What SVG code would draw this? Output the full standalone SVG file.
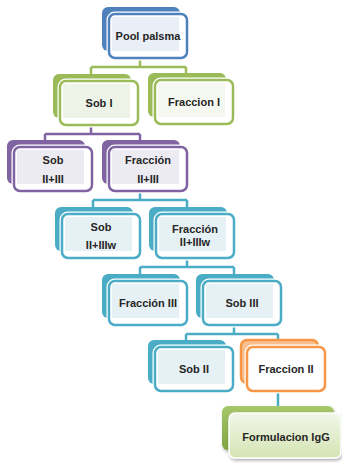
<svg xmlns="http://www.w3.org/2000/svg" width="342" height="463" viewBox="0 0 342 463">
<style>
.t{font-family:"Liberation Sans",Arial,sans-serif;font-weight:bold;font-size:11px;fill:#262626;text-anchor:middle}
.c{fill:none;stroke-width:2.5}
.fw{fill:none;stroke:#ffffff;stroke-width:5}
</style>
<defs>
<linearGradient id="gg" x1="0" y1="0" x2="0" y2="1">
<stop offset="0" stop-color="#f2f7e8"/><stop offset="1" stop-color="#d3e4b3"/>
</linearGradient>
<linearGradient id="gb" x1="0" y1="0" x2="0" y2="1">
<stop offset="0" stop-color="#a6c86a"/><stop offset="1" stop-color="#7fa543"/>
</linearGradient>
<filter id="sh" x="-10%" y="-10%" width="130%" height="140%">
<feDropShadow dx="1" dy="2" stdDeviation="1.5" flood-color="#000" flood-opacity="0.3"/>
</filter>
</defs>
<rect width="342" height="463" fill="#ffffff"/>
<g id="connectors">
<path class="c" stroke="#9bbb59" d="M140 57V67M91 67H186M91 67V76M186 67V75"/>
<path class="c" stroke="#8064a2" d="M91 127V134M45 134H140M45 134V141M140 134V141"/>
<path class="c" stroke="#4bacc6" d="M140 192V200M93 200H187M93 200V208M187 200V208"/>
<path class="c" stroke="#4bacc6" d="M187 258V267M140 267H234M140 267V275M234 267V275"/>
<path class="c" stroke="#4bacc6" d="M234 325V334M186 334H278M186 334V341M278 334V341"/>
<path class="c" stroke="#4bacc6" d="M278 392V408"/>
</g>
<g id="pool" transform="translate(102,7)">
<rect x="0" y="0" width="78" height="44" rx="6" fill="#4f81bd"/>
<rect class="fw" x="7" y="7" width="78" height="44" rx="6"/>
<rect x="7" y="7" width="78" height="44" rx="6" fill="#ffffff" stroke="#4f81bd" stroke-width="2.5"/>
<rect x="10" y="10" width="67" height="34" fill="#e9eef7"/>
<text class="t" x="46" y="33">Pool palsma</text>
</g>
<g id="sob1" transform="translate(53,74)">
<rect x="0" y="0" width="78" height="44" rx="6" fill="#9bbb59"/>
<rect class="fw" x="7" y="7" width="78" height="44" rx="6"/>
<rect x="7" y="7" width="78" height="44" rx="6" fill="#ffffff" stroke="#9bbb59" stroke-width="2.5"/>
<rect x="10" y="10" width="67" height="34" fill="#eef3e7"/>
<text class="t" x="46" y="33">Sob I</text>
</g>
<g id="frac1" transform="translate(148,73)">
<rect x="0" y="0" width="78" height="44" rx="6" fill="#9bbb59"/>
<rect class="fw" x="7" y="7" width="78" height="44" rx="6"/>
<rect x="7" y="7" width="78" height="44" rx="6" fill="#ffffff" stroke="#9bbb59" stroke-width="2.5"/>
<rect x="10" y="10" width="67" height="34" fill="#f5f8f0"/>
<text class="t" x="46" y="33">Fraccion I</text>
</g>
<g id="sob23" transform="translate(7,140)">
<rect x="0" y="0" width="78" height="44" rx="6" fill="#8064a2"/>
<rect class="fw" x="7" y="7" width="78" height="44" rx="6"/>
<rect x="7" y="7" width="78" height="44" rx="6" fill="#ffffff" stroke="#8064a2" stroke-width="2.5"/>
<rect x="10" y="10" width="67" height="34" fill="#ecebf2"/>
<text class="t" x="46" y="24">Sob</text>
<text class="t" x="46" y="43">II+III</text>
</g>
<g id="frac23" transform="translate(102,140)">
<rect x="0" y="0" width="78" height="44" rx="6" fill="#8064a2"/>
<rect class="fw" x="7" y="7" width="78" height="44" rx="6"/>
<rect x="7" y="7" width="78" height="44" rx="6" fill="#ffffff" stroke="#8064a2" stroke-width="2.5"/>
<rect x="10" y="10" width="67" height="34" fill="#ecebf2"/>
<text class="t" x="46" y="24">Fracción</text>
<text class="t" x="46" y="43">II+III</text>
</g>
<g id="sob23w" transform="translate(55,207)">
<rect x="0" y="0" width="78" height="44" rx="6" fill="#4bacc6"/>
<rect class="fw" x="7" y="7" width="78" height="44" rx="6"/>
<rect x="7" y="7" width="78" height="44" rx="6" fill="#ffffff" stroke="#4bacc6" stroke-width="2.5"/>
<rect x="10" y="10" width="67" height="34" fill="#e5f1f5"/>
<text class="t" x="46" y="24">Sob</text>
<text class="t" x="46" y="42">II+IIIw</text>
</g>
<g id="frac23w" transform="translate(149,207)">
<rect x="0" y="0" width="78" height="44" rx="6" fill="#4bacc6"/>
<rect class="fw" x="7" y="7" width="78" height="44" rx="6"/>
<rect x="7" y="7" width="78" height="44" rx="6" fill="#ffffff" stroke="#4bacc6" stroke-width="2.5"/>
<rect x="10" y="10" width="67" height="34" fill="#e5f1f5"/>
<text class="t" x="46" y="26">Fracción</text>
<text class="t" x="46" y="39">II+IIIw</text>
</g>
<g id="frac3" transform="translate(102,274)">
<rect x="0" y="0" width="78" height="44" rx="6" fill="#4bacc6"/>
<rect class="fw" x="7" y="7" width="78" height="44" rx="6"/>
<rect x="7" y="7" width="78" height="44" rx="6" fill="#ffffff" stroke="#4bacc6" stroke-width="2.5"/>
<rect x="10" y="10" width="67" height="34" fill="#e5f1f5"/>
<text class="t" x="46" y="33">Fracción III</text>
</g>
<g id="sob3" transform="translate(196,274)">
<rect x="0" y="0" width="78" height="44" rx="6" fill="#4bacc6"/>
<rect class="fw" x="7" y="7" width="78" height="44" rx="6"/>
<rect x="7" y="7" width="78" height="44" rx="6" fill="#ffffff" stroke="#4bacc6" stroke-width="2.5"/>
<rect x="10" y="10" width="67" height="34" fill="#e5f1f5"/>
<text class="t" x="46" y="33">Sob III</text>
</g>
<g id="sob2" transform="translate(148,340)">
<rect x="0" y="0" width="78" height="44" rx="6" fill="#4bacc6"/>
<rect class="fw" x="7" y="7" width="78" height="44" rx="6"/>
<rect x="7" y="7" width="78" height="44" rx="6" fill="#ffffff" stroke="#4bacc6" stroke-width="2.5"/>
<rect x="10" y="10" width="67" height="34" fill="#e5f1f5"/>
<text class="t" x="46" y="33">Sob II</text>
</g>
<g id="frac2" transform="translate(240,339)">
<rect x="1" y="1" width="77" height="43" rx="6" fill="#fbbf8f" stroke="#f79646" stroke-width="2.5"/>
<rect class="fw" x="7" y="8" width="78" height="44" rx="6"/>
<rect x="7" y="8" width="78" height="44" rx="6" fill="#ffffff" stroke="#f79646" stroke-width="2.5"/>
<text class="t" x="46" y="34">Fraccion II</text>
</g>
<g id="formulacion" transform="translate(222,406)">
<rect x="0" y="0" width="112" height="44" rx="6" fill="url(#gb)" filter="url(#sh)"/>
<rect x="7" y="7" width="112" height="45" rx="6" fill="url(#gg)" stroke="#ffffff" stroke-width="1.5" filter="url(#sh)"/>
<text class="t" x="64" y="35">Formulacion IgG</text>
</g>
</svg>
